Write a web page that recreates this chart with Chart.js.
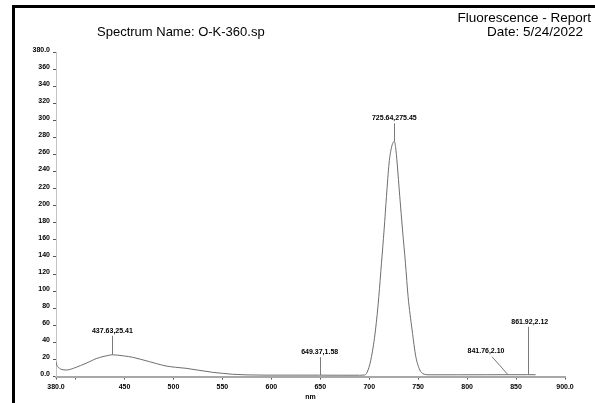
<!DOCTYPE html>
<html>
<head>
<meta charset="utf-8">
<script src="https://cdn.jsdelivr.net/npm/chart.js@4"></script>
<style>
  html, body { margin: 0; padding: 0; background: #fff; }
  #wrap { position: relative; width: 595px; height: 403px; overflow: hidden; }
  canvas { position: absolute; left: 0; top: 0; }
  .t { position: absolute; font-family: "Liberation Sans", Arial, sans-serif; font-size: 13.5px; line-height: 13px; color: #000; white-space: nowrap; }
</style>
</head>
<body>
<div id="wrap">
  <canvas id="c" width="595" height="403"></canvas>
  <div class="t" style="left:97px; top:25px; font-size:13px;">Spectrum Name: O-K-360.sp</div>
  <div class="t" style="right:4px; top:11px;">Fluorescence - Report</div>
  <div class="t" style="right:12px; top:25px;">Date: 5/24/2022</div>
</div>
<script>
// ---- data ----
const wavelengths = [380, 381, 383.6, 386, 390.4, 395, 400.6, 405, 410.8, 416, 421, 428, 433, 437.63, 443, 450, 458.4, 466, 475.4, 483, 492.4, 502, 512.9, 526, 540, 550, 560.4, 575, 594.5, 620, 649.37, 670, 690, 695.3, 698.8, 702.3, 706.4, 709.8, 712.5, 715.2, 717.6, 720.3, 722.5, 724.4, 725.64, 727, 728.5, 731.2, 734, 737, 739.7, 743.8, 747.6, 751.7, 754.5, 757.8, 762, 790, 820, 841.76, 861.92, 870];
const intensities = [17.3, 13, 9.6, 8.2, 7.6, 8.5, 10.8, 12.8, 15.5, 18.3, 20.9, 23.3, 24.6, 25.41, 25.0, 24.0, 22.5, 20.3, 17.4, 15.0, 12.3, 10.8, 9.6, 7.3, 4.9, 3.7, 2.6, 1.9, 1.6, 1.6, 1.58, 1.5, 1.5, 1.7, 7.6, 23.2, 54.5, 93.6, 132.7, 171.7, 210.8, 250, 267, 274, 275.45, 268, 250, 210.8, 171.7, 132.7, 93.6, 54.5, 23.2, 7.6, 3.6, 2.3, 2.0, 2.0, 2.05, 2.10, 2.12, 2.1];

const xTickValues = [380, 400, 450, 500, 550, 600, 650, 700, 750, 800, 850, 900];
const xTickLabels = ["380.0", "", "450", "500", "550", "600", "650", "700", "750", "800", "850", "900.0"];
const yTickValues = [0, 20, 40, 60, 80, 100, 120, 140, 160, 180, 200, 220, 240, 260, 280, 300, 320, 340, 360, 380];
const yTickLabels = ["0.0", "20", "40", "60", "80", "100", "120", "140", "160", "180", "200", "220", "240", "260", "280", "300", "320", "340", "360", "380.0"];

const peakWavelengths = [437.63, 649.37, 725.64, 841.76, 861.92];
const peakIntensities = [25.41, 1.58, 275.45, 2.10, 2.12];
const peakLabels = ["437.63,25.41", "649.37,1.58", "725.64,275.45", "841.76,2.10", "861.92,2.12"];

// ---- styling (label placement relative to each marked point) ----
const peakLabelStyle = [
  { dx: 0, dy: 24 },
  { dx: 0, dy: 23 },
  { dx: 0, dy: 23 },
  { dx: -22, dy: 24 },
  { dx: 2, dy: 53 }
];
const tickFont = { family: "Liberation Sans", size: 7, weight: "bold" };

const points = wavelengths.map((w, i) => ({ x: w, y: intensities[i] }));

const framePlugin = {
  id: 'frame',
  beforeDraw(chart) {
    const ctx = chart.ctx;
    ctx.save();
    ctx.fillStyle = '#fff';
    ctx.fillRect(0, 0, chart.width, chart.height);
    ctx.fillStyle = '#000';
    ctx.fillRect(12, 5, 3, chart.height - 5);
    ctx.fillRect(12, 5, chart.width - 12, 3);
    ctx.restore();
  }
};

const peakPlugin = {
  id: 'peaks',
  afterDatasetsDraw(chart) {
    const ctx = chart.ctx;
    const xs = chart.scales.x, ys = chart.scales.y;
    ctx.save();
    ctx.font = 'bold 7px "Liberation Sans"';
    ctx.textAlign = 'center';
    ctx.textBaseline = 'middle';
    peakWavelengths.forEach((w, i) => {
      const px = xs.getPixelForValue(w);
      const py = ys.getPixelForValue(peakIntensities[i]);
      const st = peakLabelStyle[i];
      const lx = px + st.dx, ly = py - st.dy;
      ctx.strokeStyle = '#7a7a7a';
      ctx.lineWidth = 1;
      ctx.beginPath();
      if (Math.abs(st.dx) < 4) {
        ctx.moveTo(Math.round(px) + 0.5, ly + 5);
        ctx.lineTo(Math.round(px) + 0.5, py);
      } else {
        ctx.moveTo(lx + 6, ly + 6);
        ctx.lineTo(px, py);
      }
      ctx.stroke();
      ctx.fillStyle = '#000';
      ctx.fillText(peakLabels[i], lx, ly);
    });
    ctx.restore();
  }
};

new Chart(document.getElementById('c'), {
  type: 'line',
  data: {
    datasets: [{
      data: points,
      borderColor: '#6e6e6e',
      borderWidth: 1,
      pointRadius: 0,
      fill: false,
      cubicInterpolationMode: 'monotone'
    }]
  },
  options: {
    responsive: false,
    animation: false,
    events: [],
    layout: { padding: { left: 0, right: 30, top: 52, bottom: 0 }, autoPadding: false },
    plugins: { legend: { display: false }, tooltip: { enabled: false }, title: { display: false } },
    scales: {
      x: {
        type: 'linear',
        min: 380, max: 900,
        afterBuildTicks(s) { s.ticks = xTickValues.map(v => ({ value: v })); },
        afterFit(s) { s.height = 26.5; },
        ticks: {
          autoSkip: false, maxRotation: 0, minRotation: 0,
          padding: 3,
          color: '#000',
          font: tickFont,
          callback(v) { const k = xTickValues.indexOf(v); return k >= 0 ? xTickLabels[k] : ''; }
        },
        grid: { drawOnChartArea: false, drawTicks: true, tickLength: 3, color: '#555' },
        border: { display: true, color: '#a8a8a8', width: 2 },
        title: { display: true, text: 'nm', color: '#000', font: { family: "Liberation Sans", size: 7, weight: 'bold' }, padding: { top: 0, bottom: 2 } }
      },
      y: {
        type: 'linear',
        min: 0, max: 380,
        afterBuildTicks(s) { s.ticks = yTickValues.map(v => ({ value: v })); },
        afterFit(s) { s.width = 56; },
        ticks: {
          autoSkip: false,
          padding: 3,
          labelOffset: -2,
          color: '#000',
          font: tickFont,
          callback(v) { const k = yTickValues.indexOf(v); return k >= 0 ? yTickLabels[k] : ''; }
        },
        grid: { drawOnChartArea: false, drawTicks: true, tickLength: 3, color: '#555' },
        border: { display: true, color: '#c4c4c4', width: 1 }
      }
    }
  },
  plugins: [framePlugin, peakPlugin]
});
</script>
</body>
</html>
